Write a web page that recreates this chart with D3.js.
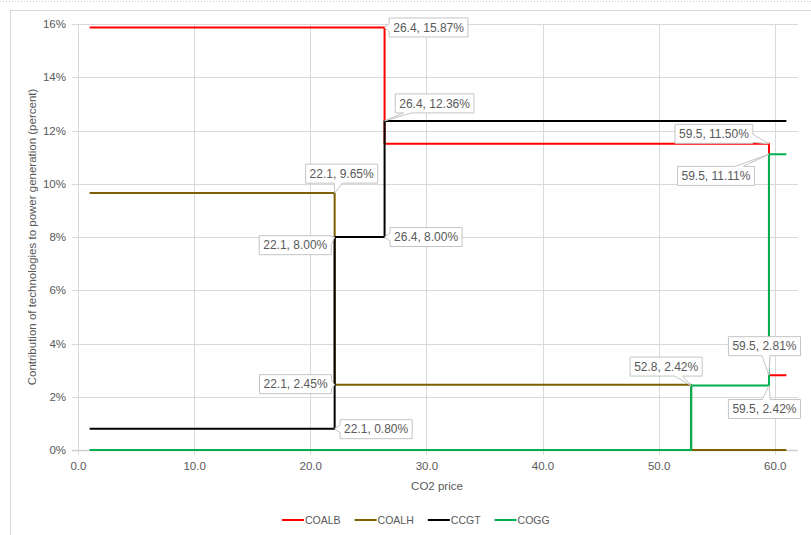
<!DOCTYPE html>
<html>
<head>
<meta charset="utf-8">
<script src="https://cdn.jsdelivr.net/npm/d3@7"></script>
<style>
  html, body { margin: 0; padding: 0; background: #ffffff; }
  svg { display: block; font-family: "Liberation Sans", Arial, sans-serif; }
</style>
</head>
<body>
<svg id="chart" width="811" height="535"></svg>
<script>
// CO2 price range covered by every series
const priceStart = 1.0;
const priceEnd = 61.0;

// Technologies and their line colours
const seriesNames = ["COALB", "COALH", "CCGT", "COGG"];
const seriesColors = ["#ff0000", "#7f6000", "#000000", "#00b050"];

// Prices where each technology's share jumps, and the share (percent) on each step
const coalbBreaks = [26.4, 59.5];
const coalbShares = [15.87, 11.50, 2.81];
const coalhBreaks = [22.1, 52.8];
const coalhShares = [9.65, 2.45, 0.00];
const ccgtBreaks = [22.1, 26.4];
const ccgtShares = [0.80, 8.00, 12.36];
const coggBreaks = [52.8, 59.5];
const coggShares = [0.00, 2.42, 11.11];

// Axis ticks
const xTicks = [0, 10, 20, 30, 40, 50, 60];
const yTicks = [0, 2, 4, 6, 8, 10, 12, 14, 16];

// Labelled points: [series index, break index, share index]
const labelPoints = [
  [0, 0, 0], [2, 1, 2], [0, 1, 1], [3, 1, 2],
  [1, 0, 0], [2, 0, 1], [2, 1, 1], [1, 0, 1],
  [2, 0, 0], [3, 0, 1], [0, 1, 2], [3, 1, 1]
];
// Callout box centre offsets from the labelled point (px)
const labelOffsets = [
  [44, 0], [50, -17.5], [-55, -10], [-53, 21.7],
  [7, -19.4], [-39.4, 8.2], [41.5, 0], [-39.1, -0.6],
  [41.5, 0.5], [-25, -19], [-4.5, -29], [-4.5, 23.4]
];

const allBreaks = [coalbBreaks, coalhBreaks, ccgtBreaks, coggBreaks];
const allShares = [coalbShares, coalhShares, ccgtShares, coggShares];

const svg = d3.select("#chart");
const W = 811, H = 535;
const plot = { left: 78, right: 798, top: 24, bottom: 450 };

const x = d3.scaleLinear().domain([0, 62]).range([plot.left, plot.right]);
const y = d3.scaleLinear().domain([0, 16]).range([plot.bottom, plot.top]);

const textColor = "#595959";
const gridColor = "#d9d9d9";

svg.append("rect").attr("width", W).attr("height", H).attr("fill", "#ffffff");
// dotted page edge and chart frame
svg.append("line").attr("x1", 0).attr("x2", W).attr("y1", 1.5).attr("y2", 1.5)
  .attr("stroke", "#c8c8c8").attr("stroke-dasharray", "1,2");
svg.append("rect").attr("x", 10.5).attr("y", 10.5).attr("width", W + 10).attr("height", H + 10)
  .attr("fill", "none").attr("stroke", gridColor);

// gridlines
const grid = svg.append("g");
grid.selectAll("line.h").data(yTicks).join("line")
  .attr("x1", plot.left - 6).attr("x2", plot.right)
  .attr("y1", d => Math.round(y(d)) + 0.5).attr("y2", d => Math.round(y(d)) + 0.5)
  .attr("stroke", gridColor);
grid.selectAll("line.v").data(xTicks).join("line")
  .attr("x1", d => Math.round(x(d)) + 0.5).attr("x2", d => Math.round(x(d)) + 0.5)
  .attr("y1", plot.top).attr("y2", plot.bottom + 5)
  .attr("stroke", gridColor);
// x axis line
svg.append("line").attr("x1", plot.left - 6).attr("x2", plot.right)
  .attr("y1", Math.round(y(0)) + 0.5).attr("y2", Math.round(y(0)) + 0.5)
  .attr("stroke", "#cfcfcf").attr("stroke-width", 1.5);

// axes (tick labels only; lines drawn above)
const yAxis = d3.axisLeft(y).tickValues(yTicks).tickFormat(d => d + "%").tickSize(0).tickPadding(12);
const gy = svg.append("g").attr("transform", `translate(${plot.left},0)`).call(yAxis);
gy.select(".domain").remove();
gy.selectAll("text").attr("fill", textColor).attr("font-size", 11.5)
  .attr("font-family", "Liberation Sans, Arial, sans-serif");

const xAxis = d3.axisBottom(x).tickValues(xTicks).tickFormat(d3.format(".1f")).tickSize(0).tickPadding(12);
const gx = svg.append("g").attr("transform", `translate(0,${plot.bottom})`).call(xAxis);
gx.select(".domain").remove();
gx.selectAll("text").attr("fill", textColor).attr("font-size", 11.5)
  .attr("font-family", "Liberation Sans, Arial, sans-serif");

// axis titles
svg.append("text").attr("x", (plot.left + plot.right) / 2 - 1).attr("y", 490)
  .attr("text-anchor", "middle").attr("fill", textColor).attr("font-size", 11.5)
  .text("CO2 price");
svg.append("text")
  .attr("transform", `translate(36,${(plot.top + plot.bottom) / 2}) rotate(-90)`)
  .attr("text-anchor", "middle").attr("fill", textColor).attr("font-size", 11.5)
  .text("Contribution of technologies to power generation (percent)");

// step series
function stepPoints(breaks, shares) {
  const pts = [[priceStart, shares[0]]];
  breaks.forEach((b, i) => { pts.push([b, shares[i]]); pts.push([b, shares[i + 1]]); });
  pts.push([priceEnd, shares[shares.length - 1]]);
  return pts;
}
const line = d3.line().x(d => x(d[0])).y(d => y(d[1]));
const lines = svg.append("g");
seriesNames.forEach((name, i) => {
  lines.append("path")
    .datum(stepPoints(allBreaks[i], allShares[i]))
    .attr("d", line)
    .attr("fill", "none")
    .attr("stroke", seriesColors[i])
    .attr("stroke-width", 2)
    .attr("stroke-linejoin", "round");
});

// callout data labels
const fmtX = d3.format(".1f"), fmtY = d3.format(".2f");
const labels = svg.append("g");
labelPoints.forEach(([s, b, k], i) => {
  const px = x(allBreaks[s][b]);
  const py = y(allShares[s][k]);
  const txt = `${fmtX(allBreaks[s][b])}, ${fmtY(allShares[s][k])}%`;
  const cx = px + labelOffsets[i][0], cy = py + labelOffsets[i][1];
  const g = labels.append("g");
  const path = g.append("path");
  const t = g.append("text").attr("x", cx).attr("y", cy).attr("dy", "0.35em")
    .attr("text-anchor", "middle").attr("fill", textColor).attr("font-size", 12).text(txt);
  const tw = t.node().getComputedTextLength();
  const bw = tw + 8, bh = 19;
  const L = cx - bw / 2, R = cx + bw / 2, T = cy - bh / 2, B = cy + bh / 2;
  // where the line from box centre to the point leaves the box
  const dx = px - cx, dy = py - cy;
  const tx = dx !== 0 ? (bw / 2) / Math.abs(dx) : Infinity;
  const ty = dy !== 0 ? (bh / 2) / Math.abs(dy) : Infinity;
  const hw = 4;
  let pts;
  if (tx < ty) {
    const by = Math.max(T + hw + 1, Math.min(B - hw - 1, cy + dy * tx));
    if (dx > 0) pts = [[L, T], [R, T], [R, by - hw], [px, py], [R, by + hw], [R, B], [L, B]];
    else pts = [[L, T], [R, T], [R, B], [L, B], [L, by + hw], [px, py], [L, by - hw]];
  } else {
    const bx = Math.max(L + hw + 1, Math.min(R - hw - 1, cx + dx * ty));
    if (dy > 0) pts = [[L, T], [R, T], [R, B], [bx + hw, B], [px, py], [bx - hw, B], [L, B]];
    else pts = [[L, T], [bx - hw, T], [px, py], [bx + hw, T], [R, T], [R, B], [L, B]];
  }
  path.attr("d", "M" + pts.map(p => p.join(",")).join("L") + "Z")
    .attr("fill", "#ffffff").attr("stroke", "#c4c4c4").attr("stroke-width", 1);
});

// legend
const legendItems = seriesNames.map((n, i) => ({ name: n, color: seriesColors[i] }));
const legend = svg.append("g").attr("transform", "translate(0,520)");
let lx = 282;
legendItems.forEach(d => {
  legend.append("line").attr("x1", lx).attr("x2", lx + 22).attr("y1", 0).attr("y2", 0)
    .attr("stroke", d.color).attr("stroke-width", 2);
  const t = legend.append("text").attr("x", lx + 23).attr("y", 0).attr("dy", "0.35em")
    .attr("fill", textColor).attr("font-size", 10.5).text(d.name);
  lx += 23 + t.node().getComputedTextLength() + 14;
});
</script>
</body>
</html>
